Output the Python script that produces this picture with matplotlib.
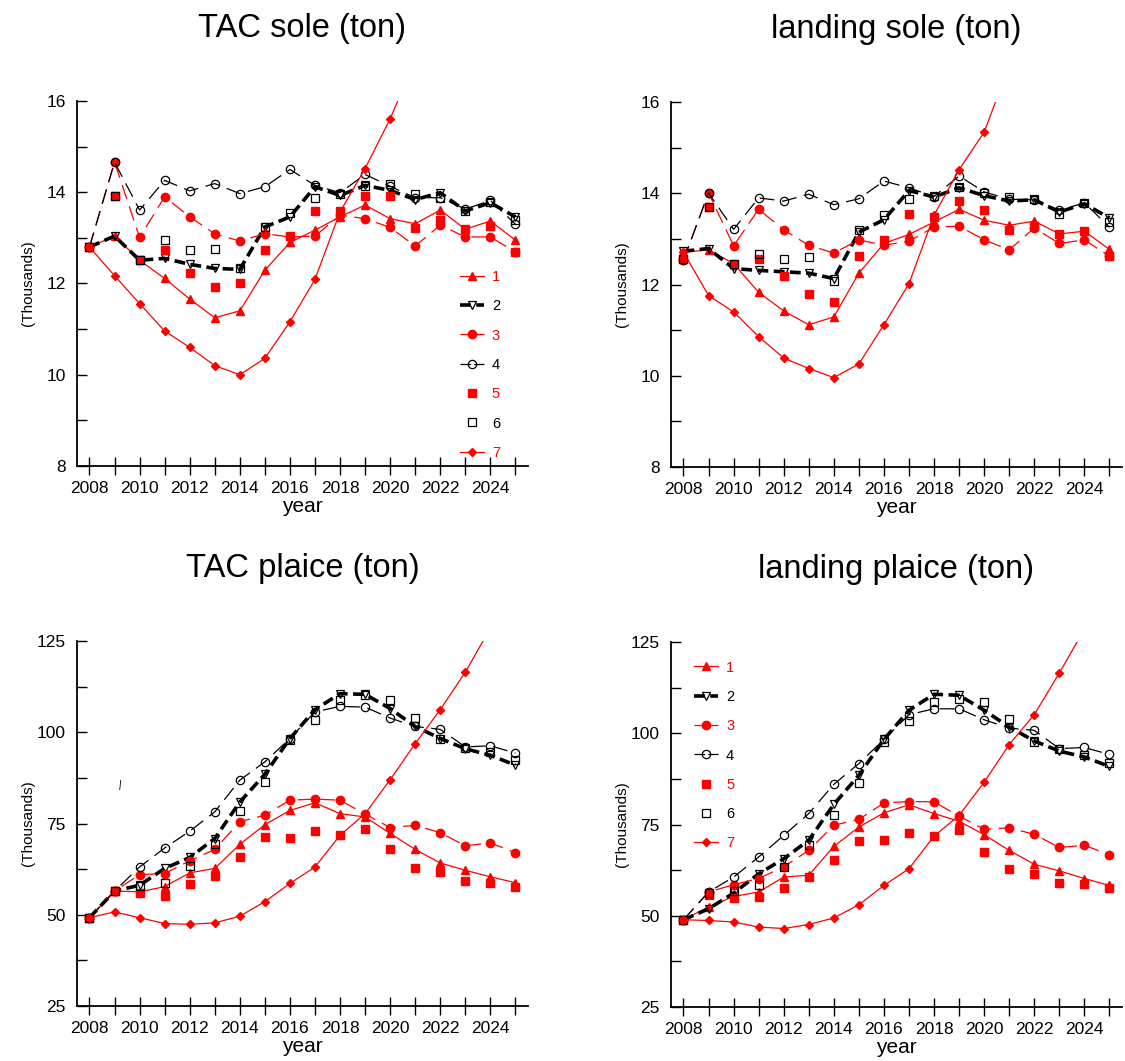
import matplotlib
matplotlib.use("Agg")
import matplotlib.pyplot as plt
import numpy as np
from matplotlib.ticker import MultipleLocator

plt.rcParams['font.family'] = ['Liberation Sans', 'DejaVu Sans']
#-------------------------------------------------
# data (values in thousands of ton)
#-------------------------------------------------
years = np.arange(2008, 2026)

# TAC sole
tac_sole_1 = [12.80, 13.04, 12.51, 12.11, 11.66, 11.25, 11.40, 12.29, 12.90, 13.17, 13.46, 13.72, 13.42, 13.31, 13.61, 13.19, 13.37, 12.95]
tac_sole_2 = [12.80, 13.04, 12.51, 12.55, 12.42, 12.33, 12.31, 13.24, 13.46, 14.12, 13.93, 14.15, 14.04, 13.84, 13.99, 13.59, 13.77, 13.46]
tac_sole_3 = [12.80, 14.66, 13.01, 13.90, 13.46, 13.09, 12.93, 13.09, 13.02, 13.04, 13.50, 13.42, 13.23, 12.82, 13.28, 13.02, 13.02, 12.69]
tac_sole_4 = [12.80, 14.66, 13.61, 14.26, 14.03, 14.19, 13.97, 14.12, 14.50, 14.15, 13.99, 14.39, 14.13, 13.88, 13.88, 13.63, 13.82, 13.30]
tac_sole_5 = [12.80, 13.92, 12.51, 12.73, 12.23, 11.93, 12.01, 12.73, 13.04, 13.59, 13.59, 13.91, 13.91, 13.22, 13.40, 13.19, 13.26, 12.69]
tac_sole_6 = [12.80, 13.92, 12.51, 12.95, 12.73, 12.75, 12.35, 13.24, 13.55, 13.88, 13.96, 14.13, 14.18, 13.97, 13.88, 13.58, 13.79, 13.39]
tac_sole_7 = [12.80, 12.17, 11.56, 10.96, 10.60, 10.20, 10.00, 10.36, 11.16, 12.09, 13.57, 14.52, 15.61, 16.90, 18.20, 19.50, 20.80, 22.00]

# landing sole
lan_sole_1 = [12.71, 12.76, 12.46, 11.83, 11.42, 11.12, 11.29, 12.25, 12.90, 13.10, 13.37, 13.65, 13.41, 13.30, 13.39, 13.11, 13.17, 12.77]
lan_sole_2 = [12.73, 12.79, 12.35, 12.31, 12.28, 12.25, 12.13, 13.15, 13.42, 14.06, 13.92, 14.12, 13.95, 13.83, 13.86, 13.59, 13.77, 13.46]
lan_sole_3 = [12.53, 14.01, 12.85, 13.65, 13.20, 12.86, 12.69, 12.98, 12.86, 12.95, 13.26, 13.28, 12.98, 12.76, 13.24, 12.90, 12.98, 12.62]
lan_sole_4 = [12.53, 14.01, 13.21, 13.90, 13.83, 13.98, 13.75, 13.88, 14.27, 14.12, 13.93, 14.38, 14.03, 13.87, 13.86, 13.63, 13.79, 13.26]
lan_sole_5 = [12.57, 13.70, 12.46, 12.57, 12.18, 11.79, 11.61, 12.62, 12.98, 13.55, 13.48, 13.83, 13.63, 13.19, 13.28, 13.11, 13.17, 12.62]
lan_sole_6 = [12.57, 13.70, 12.44, 12.68, 12.57, 12.61, 12.07, 13.19, 13.53, 13.88, 13.94, 14.14, 14.01, 13.93, 13.87, 13.54, 13.79, 13.37]
lan_sole_7 = [12.71, 11.76, 11.40, 10.86, 10.39, 10.16, 9.96, 10.26, 11.12, 12.02, 13.52, 14.52, 15.34, 16.80, 18.10, 19.40, 20.60, 21.80]

# TAC plaice
tac_plai_1 = [49.2, 56.5, 56.3, 57.7, 61.5, 62.7, 69.3, 74.7, 78.6, 80.7, 77.7, 76.8, 72.3, 67.9, 64.2, 62.2, 60.4, 58.8]
tac_plai_2 = [49.2, 56.5, 58.1, 62.7, 65.7, 70.9, 80.9, 88.5, 98.3, 106.2, 110.6, 110.4, 106.5, 101.6, 98.3, 95.5, 93.7, 91.0]
tac_plai_3 = [49.2, 56.5, 61.0, 61.3, 64.8, 67.9, 75.5, 77.3, 81.4, 81.7, 81.4, 77.6, 73.9, 74.5, 72.5, 68.9, 69.7, 67.0]
tac_plai_4 = [49.2, 56.5, 63.1, 68.3, 72.9, 78.2, 86.9, 91.9, 98.3, 105.6, 107.1, 106.9, 103.9, 101.6, 100.8, 96.0, 96.3, 94.3]
tac_plai_5 = [49.2, 56.5, 56.0, 55.1, 58.4, 60.6, 65.7, 71.4, 71.1, 72.9, 71.8, 73.4, 67.9, 62.9, 61.6, 59.2, 58.6, 57.7]
tac_plai_6 = [49.2, 56.5, 57.9, 58.6, 63.3, 69.3, 78.4, 86.4, 97.8, 103.5, 108.8, 110.1, 108.8, 103.9, 98.1, 95.7, 94.6, 92.3]
tac_plai_7 = [49.2, 50.8, 49.2, 47.6, 47.4, 47.8, 49.6, 53.6, 58.6, 63.1, 71.8, 77.7, 87.0, 96.9, 106.2, 116.5, 128.5, 140.0]

# landing plaice
lan_plai_1 = [48.9, 52.4, 55.3, 56.5, 60.6, 61.1, 69.0, 74.3, 78.2, 80.4, 78.0, 75.9, 72.2, 67.9, 64.1, 62.3, 60.2, 58.3]
lan_plai_2 = [48.9, 51.9, 56.2, 61.5, 65.6, 70.7, 80.5, 88.5, 98.3, 106.3, 110.7, 110.4, 106.3, 101.7, 97.9, 95.1, 93.5, 90.9]
lan_plai_3 = [48.9, 56.5, 58.5, 60.2, 63.4, 67.9, 74.8, 76.4, 80.9, 81.3, 81.2, 77.3, 73.7, 74.1, 72.3, 68.7, 69.3, 66.7]
lan_plai_4 = [48.9, 56.5, 60.6, 66.1, 72.0, 78.0, 86.0, 91.7, 98.3, 105.1, 106.7, 106.7, 103.7, 101.4, 100.8, 95.8, 96.1, 94.2]
lan_plai_5 = [48.9, 55.8, 54.9, 55.1, 57.6, 60.6, 65.4, 70.4, 70.8, 72.7, 71.8, 73.4, 67.6, 62.7, 61.5, 59.0, 58.6, 57.7]
lan_plai_6 = [48.9, 56.1, 56.7, 58.3, 63.4, 69.5, 77.7, 86.4, 97.6, 103.4, 108.6, 109.5, 108.7, 103.8, 97.6, 95.6, 94.1, 91.8]
lan_plai_7 = [48.9, 48.7, 48.3, 46.9, 46.5, 47.6, 49.4, 53.0, 58.3, 62.9, 71.8, 77.5, 86.6, 96.9, 105.1, 116.5, 128.5, 140.0]

labels = ['1', '2', '3', '4', '5', '6', '7']

#-------------------------------------------------
# styles of the 7 scenarios
#-------------------------------------------------
red = '#ff0000'
styles = [
    dict(color=red, ls='-', lw=0.9, marker='^', ms=6, mfc=red, mec=red),
    dict(color='black', ls=(0, (3, 1.5)), lw=2.6, marker='v', ms=6, mfc='none', mec='black', mew=0.9),
    dict(color=red, ls=(0, (12, 6)), lw=0.9, marker='o', ms=6, mfc=red, mec=red),
    dict(color='black', ls=(0, (12, 6)), lw=0.9, marker='o', ms=6, mfc='none', mec='black', mew=0.9),
    dict(color=red, ls='none', marker='s', ms=6, mfc=red, mec=red),
    dict(color='black', ls='none', marker='s', ms=6, mfc='none', mec='black', mew=0.9),
    dict(color=red, ls='-', lw=0.9, marker='D', ms=4.3, mfc=red, mec=red),
]

#-------------------------------------------------
# plots
#-------------------------------------------------
fig = plt.figure(figsize=(11.25, 10.61), dpi=100)

def panel(rect, title, series, ylim, ystep):
    ax = fig.add_axes(rect)
    for s, st, lab in zip(series, styles, labels):
        ax.plot(years, s, label=lab, **st)
    ax.set_xlim(2007.5, 2025.5)
    ax.set_ylim(*ylim)
    ax.xaxis.set_major_locator(MultipleLocator(2))
    ax.xaxis.set_minor_locator(MultipleLocator(1))
    ax.yaxis.set_major_locator(MultipleLocator(ystep))
    ax.yaxis.set_minor_locator(MultipleLocator(ystep / 2))
    for sp in ['top', 'right']:
        ax.spines[sp].set_visible(False)
    for sp in ['left', 'bottom']:
        ax.spines[sp].set_linewidth(1.3)
    ax.tick_params(axis='x', which='both', direction='inout', length=13, width=1.0, labelsize=12.5, pad=4)
    ax.tick_params(axis='y', which='both', direction='in', length=7, width=1.0, labelsize=12.5, pad=8)
    ax.set_xlabel('year', fontsize=15)
    ax.xaxis.set_label_coords(0.5, -0.085)
    ax.set_ylabel('(Thousands)', fontsize=11)
    ax.yaxis.set_label_coords(-0.093, 0.5)
    ax.text(0.5, 1.2, title, transform=ax.transAxes, ha='center', va='center', fontsize=23.5)
    return ax

ax1 = panel([0.0684, 0.5608, 0.4009, 0.3440], 'TAC sole (ton)',
            [tac_sole_1, tac_sole_2, tac_sole_3, tac_sole_4, tac_sole_5, tac_sole_6, tac_sole_7], (8, 16), 2)
ax2 = panel([0.5964, 0.5598, 0.4009, 0.3440], 'landing sole (ton)',
            [lan_sole_1, lan_sole_2, lan_sole_3, lan_sole_4, lan_sole_5, lan_sole_6, lan_sole_7], (8, 16), 2)
ax3 = panel([0.0684, 0.0518, 0.4009, 0.3440], 'TAC plaice (ton)',
            [tac_plai_1, tac_plai_2, tac_plai_3, tac_plai_4, tac_plai_5, tac_plai_6, tac_plai_7], (25, 125), 25)
ax4 = panel([0.5964, 0.0509, 0.4009, 0.3440], 'landing plaice (ton)',
            [lan_plai_1, lan_plai_2, lan_plai_3, lan_plai_4, lan_plai_5, lan_plai_6, lan_plai_7], (25, 125), 25)

# stray mark in the TAC plaice panel
ax3.text(2009.2, 85.5, '|', fontsize=8, ha='center', va='center', rotation=-6)

# legends
leg_kw = dict(frameon=False, fontsize=10.5, numpoints=1, handlelength=1.65, handletextpad=0.55,
              labelspacing=1.05, borderpad=0, borderaxespad=0, labelcolor='linecolor')
for ax, anchor in [(ax1, (0.849, 0.277)), (ax4, (0.051, 0.689))]:
    leg = ax.legend(loc='center left', bbox_to_anchor=anchor, **leg_kw)
    # symmetric dashes in the small legend handles
    for i in (2, 3):
        leg.get_lines()[i].set_linestyle((0, (8.5, 2.5)))

fig.savefig('out.png', dpi=100)
